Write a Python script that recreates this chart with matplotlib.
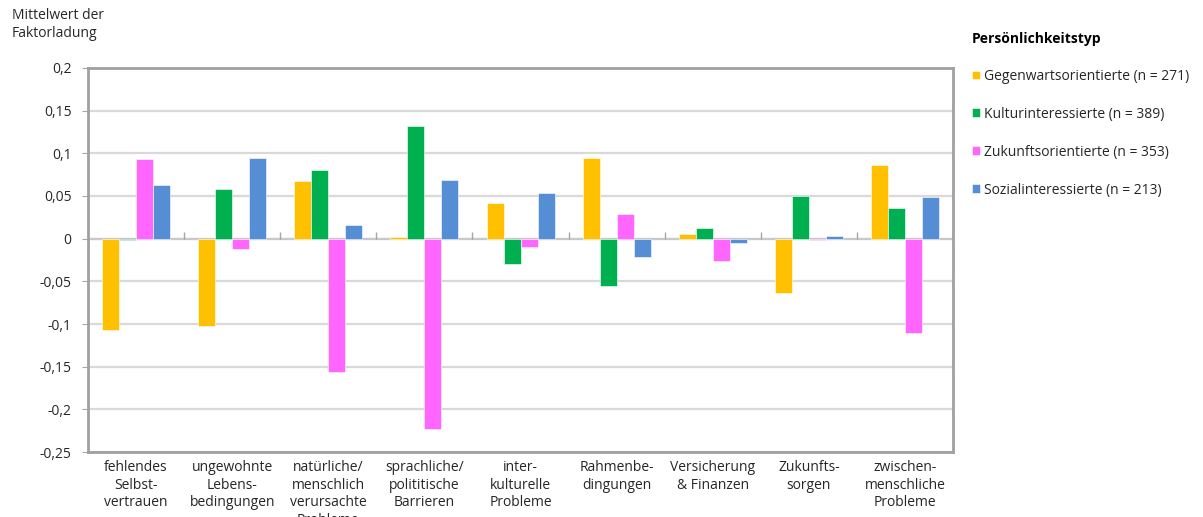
import matplotlib
matplotlib.use("Agg")
import matplotlib.pyplot as plt
import numpy as np

plt.rcParams['font.family'] = ['Open Sans', 'DejaVu Sans']

# Kategorien (x-Achse)
kategorien = [
    "fehlendes\nSelbst-\nvertrauen",
    "ungewohnte\nLebens-\nbedingungen",
    "natürliche/\nmenschlich\nverursachte\nProbleme",
    "sprachliche/\npolititische\nBarrieren",
    "inter-\nkulturelle\nProbleme",
    "Rahmenbe-\ndingungen",
    "Versicherung\n& Finanzen",
    "Zukunfts-\nsorgen",
    "zwischen-\nmenschliche\nProbleme",
]

# Mittelwerte der Faktorladung je Persönlichkeitstyp
gegenwart = [-0.107, -0.102, 0.068, 0.002, 0.042, 0.094, 0.005, -0.064, 0.086]
kultur = [-0.002, 0.058, 0.080, 0.132, -0.030, -0.055, 0.012, 0.050, 0.036]
zukunft = [0.093, -0.012, -0.156, -0.223, -0.010, 0.029, -0.026, -0.002, -0.110]
sozial = [0.063, 0.095, 0.016, 0.069, 0.054, -0.021, -0.005, 0.003, 0.049]

serien = [
    ("Gegenwartsorientierte (n = 271)", gegenwart, "#FFC000"),
    ("Kulturinteressierte (n = 389)", kultur, "#00B050"),
    ("Zukunftsorientierte (n = 353)", zukunft, "#FF66FF"),
    ("Sozialinteressierte (n = 213)", sozial, "#558ED5"),
]

y_ticks = [0.2, 0.15, 0.1, 0.05, 0, -0.05, -0.1, -0.15, -0.2, -0.25]

fig = plt.figure(figsize=(12.03, 5.17), dpi=100)
ax = fig.add_axes([0.0732, 0.1257, 0.7190, 0.7428])

x = np.arange(len(kategorien))
w = 0.177
for i, (name, vals, col) in enumerate(serien):
    ax.bar(x + (i - 1.5) * w, vals, width=w, color=col, label=name,
           edgecolor="white", linewidth=0.4, zorder=3)

ax.set_xlim(-0.5, len(kategorien) - 0.5)
ax.set_ylim(-0.25, 0.2)
ax.set_yticks(y_ticks)
ax.set_yticklabels([("%g" % v).replace(".", ",") for v in y_ticks])
ax.grid(axis="y", color="#d9d9d9", linewidth=1.6, zorder=0)
ax.axhline(0, color="#c8c8c8", linewidth=1.6, zorder=2)

# kleine Teilstriche zwischen den Kategorien auf der Nulllinie
ax.vlines(np.arange(0.5, len(kategorien) - 0.5), 0, 0.008, color="#a6a6a6",
          linewidth=1, zorder=2)

ax.set_xticks(x)
ax.set_xticklabels(kategorien, fontsize=10, color="#262626", linespacing=1.22)
ax.tick_params(axis="x", length=0, pad=6)
ax.tick_params(axis="y", length=4, color="#a6a6a6", labelsize=10,
               labelcolor="#262626", pad=8)

for s in ax.spines.values():
    s.set_color("#a0a0a0")
    s.set_linewidth(2)

fig.text(0.010, 0.985, "Mittelwert der\nFaktorladung", fontsize=10,
         color="#262626", va="top", ha="left", linespacing=1.3)

leg = fig.legend(loc="upper left", bbox_to_anchor=(0.803, 0.949),
                 frameon=False, fontsize=10, title="Persönlichkeitstyp",
                 title_fontproperties={"weight": "bold", "size": 10},
                 handlelength=0.6, handleheight=0.6, handletextpad=0.3,
                 labelspacing=1.65, alignment="left", borderaxespad=0)
for t in leg.get_texts():
    t.set_color("#262626")

fig.savefig("out.png", dpi=100)
